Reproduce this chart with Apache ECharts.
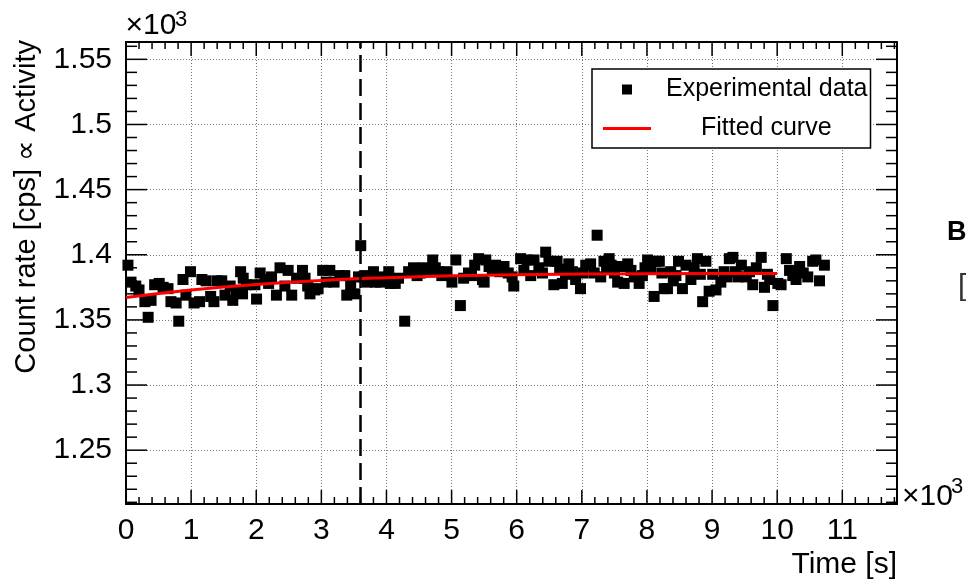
<!DOCTYPE html>
<html><head><meta charset="utf-8">
<script src="https://cdn.jsdelivr.net/npm/echarts@6/dist/echarts.min.js"></script>
<style>html,body{margin:0;padding:0;background:#fff}#c{width:966px;height:587px}</style>
</head><body><div id="c"></div>
<script>
// ---- data ----
const TIME_S = [30,77,150,200,290,340,385,440,510,570,645,690,770,810,875,920,990,1045,1130,1165,1230,1300,1350,1400,1470,1520,1600,1640,1690,1760,1790,1800,1850,1980,2005,2060,2135,2190,2235,2310,2365,2440,2490,2545,2620,2710,2750,2790,2825,2900,2950,3020,3075,3130,3195,3285,3360,3390,3450,3515,3570,3605,3645,3665,3700,3800,3830,3905,3960,4035,4060,4135,4185,4280,4340,4415,4470,4520,4570,4640,4710,4750,4800,4850,4930,5005,5065,5135,5185,5260,5305,5355,5415,5475,5500,5525,5575,5625,5675,5740,5805,5870,5930,5955,6060,6110,6160,6215,6265,6340,6395,6445,6495,6570,6620,6660,6700,6750,6800,6855,6905,6980,7020,7060,7135,7190,7235,7290,7340,7380,7420,7450,7500,7550,7600,7650,7705,7755,7805,7880,7930,7970,8010,8060,8110,8140,8190,8230,8265,8315,8365,8405,8445,8485,8545,8600,8675,8725,8775,8820,8855,8905,8955,9010,9060,9135,9185,9230,9265,9320,9360,9400,9450,9525,9575,9625,9680,9755,9805,9850,9885,9935,10010,10060,10140,10190,10240,10290,10345,10400,10470,10545,10595,10650,10725];
const COUNT_RATE = [1392,1379,1376,1373,1364,1352,1365,1377,1378,1375,1374,1364,1363,1349,1381,1369,1387,1363,1364,1381,1380,1368,1364,1380,1380,1369,1376,1365,1371,1387,1370,1382,1377,1377,1366,1386,1381,1378,1383,1369,1390,1376,1388,1369,1382,1388,1382,1376,1370,1373,1374,1388,1379,1388,1379,1384,1384,1369,1377,1370,1383,1407,1383,1384,1379,1387,1379,1379,1383,1387,1378,1378,1382,1349,1387,1390,1384,1386,1390,1388,1396,1390,1387,1384,1387,1379,1396,1361,1382,1386,1384,1392,1397,1381,1379,1396,1391,1388,1392,1387,1391,1386,1383,1376,1397,1388,1396,1384,1396,1390,1386,1402,1395,1377,1395,1389,1378,1385,1393,1387,1381,1374,1386,1392,1393,1386,1415,1383,1395,1389,1397,1392,1386,1379,1391,1378,1393,1388,1383,1378,1384,1390,1396,1389,1368,1395,1395,1386,1374,1374,1387,1380,1384,1395,1374,1392,1381,1390,1397,1385,1364,1395,1372,1385,1373,1379,1387,1383,1397,1398,1387,1383,1392,1383,1387,1377,1390,1398,1375,1385,1381,1361,1378,1377,1397,1388,1384,1381,1391,1386,1383,1395,1396,1380,1392];
const FIT_TIME_S = [0,500,1000,1500,2000,2500,3000,3500,4000,4500,5000,5500,6000,7000,8000,9000,10000];
const FIT_RATE = [1367.2,1370.3,1372.9,1375.2,1377.2,1378.9,1380.3,1381.5,1382.4,1383.2,1383.8,1384.3,1384.7,1385.2,1385.5,1385.6,1385.7];
const DASH_TIME_S = 3600;
const SERIES_NAMES = ['Experimental data', 'Fitted curve'];

const X_MIN = 0, X_MAX = 11840, Y_MIN = 1208.7, Y_MAX = 1563.3;
const X_TICK_VALUES = [0,1000,2000,3000,4000,5000,6000,7000,8000,9000,10000,11000];
const X_TICK_LABELS = ['0','1','2','3','4','5','6','7','8','9','10','11'];
const Y_TICK_VALUES = [1250,1300,1350,1400,1450,1500,1550];
const Y_TICK_LABELS = ['1.25','1.3','1.35','1.4','1.45','1.5','1.55'];
const X_MINOR_STEP = 200, Y_MINOR_STEP = 10;

const FONT = '"Liberation Sans", Arial, Helvetica, sans-serif';

// tick marks (drawn through the axes' scales by a custom series)
const tickData = [];
X_TICK_VALUES.forEach(v => tickData.push([v, Y_MIN, 0, 14]));
for (let v = X_MINOR_STEP; v < X_MAX; v += X_MINOR_STEP) if (v % 1000 !== 0) tickData.push([v, Y_MIN, 0, 7]);
Y_TICK_VALUES.forEach(v => tickData.push([X_MIN, v, 1, 21]));
for (let v = 1210; v < Y_MAX; v += Y_MINOR_STEP) if (v % 50 !== 0) tickData.push([X_MIN, v, 1, 11]);

function renderTick(params, api) {
  const kind = api.value(2), len = api.value(3);
  const style = { stroke: '#000', lineWidth: 1.5 };
  if (kind === 0) {
    const b = api.coord([api.value(0), Y_MIN]);
    const t = api.coord([api.value(0), Y_MAX]);
    return { type: 'group', children: [
      { type: 'line', shape: { x1: b[0], y1: b[1], x2: b[0], y2: b[1] - len }, style },
      { type: 'line', shape: { x1: t[0], y1: t[1], x2: t[0], y2: t[1] + len }, style }
    ]};
  }
  const l = api.coord([X_MIN, api.value(1)]);
  const r = api.coord([X_MAX, api.value(1)]);
  return { type: 'group', children: [
    { type: 'line', shape: { x1: l[0], y1: l[1], x2: l[0] + len, y2: l[1] }, style },
    { type: 'line', shape: { x1: r[0], y1: r[1], x2: r[0] - len, y2: r[1] }, style }
  ]};
}

const gridLine = { show: true, lineStyle: { color: '#777', width: 1, type: [1, 2] } };
const frameLine = { show: true, onZero: false, lineStyle: { color: '#000', width: 2 } };

const chart = echarts.init(document.getElementById('c'), null, { renderer: 'canvas' });
chart.setOption({
  animation: false,
  backgroundColor: '#fff',
  grid: { left: 126, right: 69, top: 42, bottom: 83, containLabel: false, outerBoundsMode: 'none' },
  xAxis: [
    { type: 'value', position: 'bottom', min: X_MIN, max: X_MAX, interval: 1000,
      axisLine: frameLine, axisTick: { show: false }, splitLine: gridLine,
      axisLabel: { show: true, color: '#000', fontSize: 30, fontFamily: FONT, margin: 12,
        formatter: v => { const i = X_TICK_VALUES.indexOf(v); return i < 0 ? '' : X_TICK_LABELS[i]; } } },
    { type: 'value', position: 'top', min: X_MIN, max: X_MAX, interval: 1000,
      axisLine: frameLine, axisTick: { show: false }, splitLine: { show: false }, axisLabel: { show: false } }
  ],
  yAxis: [
    { type: 'value', position: 'left', min: Y_MIN, max: Y_MAX, minInterval: 50, maxInterval: 50, splitNumber: 7,
      axisLine: frameLine, axisTick: { show: false }, splitLine: gridLine,
      axisLabel: { show: true, color: '#000', fontSize: 30, fontFamily: FONT, margin: 14,
        formatter: v => { const i = Y_TICK_VALUES.indexOf(Math.round(v * 1000) / 1000); return i < 0 ? '' : Y_TICK_LABELS[i]; } } },
    { type: 'value', position: 'right', min: Y_MIN, max: Y_MAX, minInterval: 50, maxInterval: 50, splitNumber: 7,
      axisLine: frameLine, axisTick: { show: false }, splitLine: { show: false }, axisLabel: { show: false } }
  ],
  legend: {
    orient: 'vertical', left: 592, top: 69,
    data: SERIES_NAMES, selectedMode: false,
    icon: 'none', itemWidth: 0, itemHeight: 0, itemGap: 14,
    padding: [8, 3, 7, 6],
    backgroundColor: '#fff', borderColor: '#000', borderWidth: 1.5, borderRadius: 0,
    formatter: name => name === SERIES_NAMES[0]
      ? '{s1| }{sq| }{g1| }{t|' + name + '}'
      : '{ln| }{g2| }{t|' + name + '}',
    textStyle: {
      color: '#000', fontFamily: FONT, fontSize: 25,
      rich: {
        s1: { width: 19, height: 10, verticalAlign: 'middle' },
        sq: { width: 10, height: 10, backgroundColor: '#000', verticalAlign: 'middle' },
        g1: { width: 34, verticalAlign: 'middle' },
        ln: { width: 48, height: 3, backgroundColor: '#ff0000', verticalAlign: 'middle' },
        g2: { width: 50, verticalAlign: 'middle' },
        t: { fontSize: 25, fontFamily: FONT, color: '#000', lineHeight: 24, verticalAlign: 'middle' }
      }
    }
  },
  series: [
    { name: SERIES_NAMES[0], type: 'scatter', xAxisIndex: 0, yAxisIndex: 0,
      data: TIME_S.map((t, i) => [t, COUNT_RATE[i]]),
      symbol: 'rect', symbolSize: 11, itemStyle: { color: '#000', opacity: 1 }, z: 2, silent: true,
      markLine: { silent: true, symbol: 'none', label: { show: false },
        lineStyle: { color: '#000', width: 2.5, type: [17, 7] },
        data: [{ xAxis: DASH_TIME_S }] } },
    { name: SERIES_NAMES[1], type: 'line', xAxisIndex: 0, yAxisIndex: 0,
      data: FIT_TIME_S.map((t, i) => [t, FIT_RATE[i]]),
      showSymbol: false, symbol: 'none', smooth: false,
      lineStyle: { color: '#ff0000', width: 3 }, itemStyle: { color: '#ff0000' }, z: 3, silent: true },
    { type: 'custom', coordinateSystem: 'cartesian2d', xAxisIndex: 0, yAxisIndex: 0,
      data: tickData, renderItem: renderTick, silent: true, clip: false, z: 10 }
  ],
  graphic: [
    { type: 'text', x: 27, y: 40, rotation: Math.PI / 2, silent: true,
      style: { text: 'Count rate [cps] \u221D Activity', fontSize: 29, fontFamily: FONT, fill: '#000',
        align: 'right', verticalAlign: 'middle', textAlign: 'right', textVerticalAlign: 'middle' } },
    { type: 'text', x: 897, y: 565, silent: true,
      style: { text: 'Time [s]', fontSize: 30, fontFamily: FONT, fill: '#000',
        align: 'right', verticalAlign: 'middle', textAlign: 'right', textVerticalAlign: 'middle' } },
    { type: 'text', x: 125.5, y: 26, silent: true,
      style: { text: '\u00D710', fontSize: 30, fontFamily: FONT, fill: '#000',
        align: 'left', verticalAlign: 'middle', textAlign: 'left', textVerticalAlign: 'middle' } },
    { type: 'text', x: 175, y: 20, silent: true,
      style: { text: '3', fontSize: 22, fontFamily: FONT, fill: '#000',
        align: 'left', verticalAlign: 'middle', textAlign: 'left', textVerticalAlign: 'middle' } },
    { type: 'text', x: 902, y: 497, silent: true,
      style: { text: '\u00D710', fontSize: 30, fontFamily: FONT, fill: '#000',
        align: 'left', verticalAlign: 'middle', textAlign: 'left', textVerticalAlign: 'middle' } },
    { type: 'text', x: 951, y: 487, silent: true,
      style: { text: '3', fontSize: 22, fontFamily: FONT, fill: '#000',
        align: 'left', verticalAlign: 'middle', textAlign: 'left', textVerticalAlign: 'middle' } },
    { type: 'text', x: 947, y: 233, silent: true,
      style: { text: 'B', fontSize: 27, fontWeight: 'bold', fontFamily: FONT, fill: '#000',
        align: 'left', verticalAlign: 'middle', textAlign: 'left', textVerticalAlign: 'middle' } },
    { type: 'text', x: 958, y: 287, silent: true,
      style: { text: '[', fontSize: 30, fontFamily: FONT, fill: '#333',
        align: 'left', verticalAlign: 'middle', textAlign: 'left', textVerticalAlign: 'middle' } }
  ]
});
</script></body></html>
